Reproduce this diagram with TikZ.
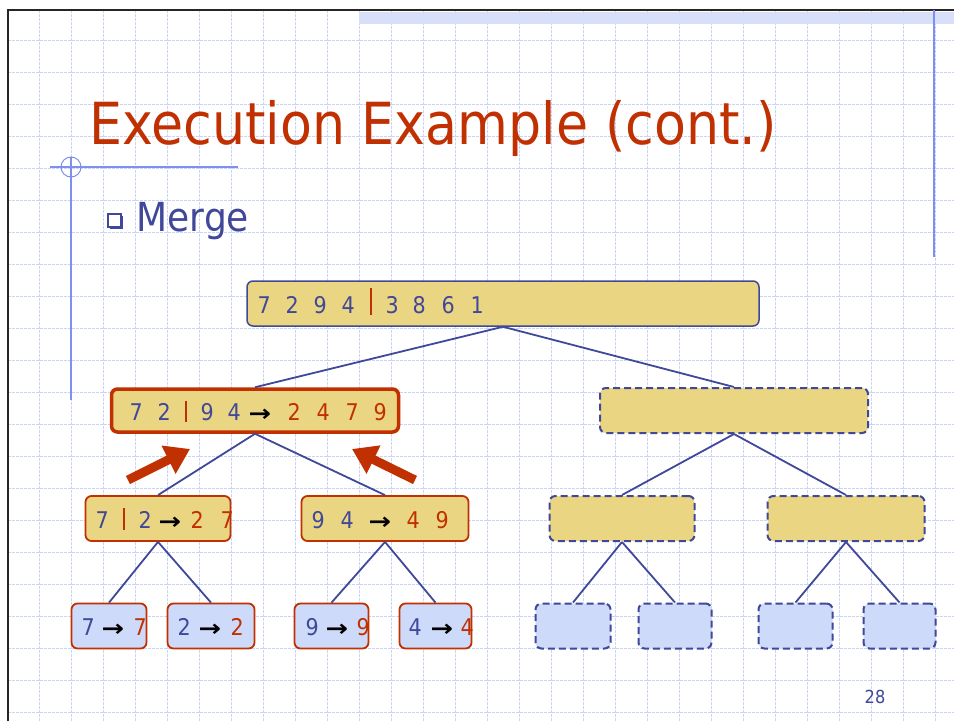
\RequirePackage{fix-cm}
\documentclass[tikz,border=0pt]{standalone}
\usepackage{fontspec}
\setmainfont{DejaVu Sans}[FakeStretch=0.9]
\usetikzlibrary{arrows.meta}

\definecolor{navy}{HTML}{404899}
\definecolor{brick}{HTML}{C03000}
\definecolor{sand}{HTML}{EAD682}
\definecolor{pale}{HTML}{CDDAFA}
\definecolor{gridc}{HTML}{C8D5F8}
\definecolor{deco}{HTML}{7F8FEF}
\definecolor{hatch}{HTML}{D8E0F9}

% one glyph followed by a fixed advance
\newcommand\cell[2]{\makebox[#1pt][l]{#2}}
\newcommand\splitbar[1]{\textcolor{brick}{\rule[-2pt]{2pt}{#1pt}}}
\newcommand\goesto{\textcolor{black}{\raisebox{-1.5pt}{\scalebox{1.3}[1]{\bfseries →}}}}

\begin{document}
\begin{tikzpicture}[x=1pt,y=-1pt,
  digits/.style={anchor=base west,inner sep=0,text=navy,
    font=\fontsize{23}{23}\selectfont},
  conn/.style={draw=navy,line width=1.8},
  ybox/.style={draw=navy,fill=sand,rounded corners=6,line width=1.5,
    minimum height=45,inner sep=0},
  yboxdash/.style={ybox,line width=2,dash pattern=on 7pt off 4pt},
  activebox/.style={ybox,draw=brick,line width=3.5,minimum height=43},
  donebox/.style={ybox,draw=brick,line width=1.8},
  leafbox/.style={donebox,fill=pale},
  leafdash/.style={yboxdash,fill=pale},
  bigarrow/.style={draw=brick,line width=9,
    -{Triangle[length=24pt,width=30pt]}}]

\useasboundingbox (0,0) rectangle (954,721);
\fill[white] (0,0) rectangle (954,721);

% dotted grid of the slide background
\foreach \k in {0,...,28}
  \draw[gridc,line width=1,dash pattern=on 2.5pt off 1.5pt]
    ({39.3+32*\k},10) -- ({39.3+32*\k},721);
\foreach \k in {0,...,21}
  \draw[gridc,line width=1,dash pattern=on 2.5pt off 1.5pt]
    (8,{40.7+32*\k}) -- (954,{40.7+32*\k});

% slide frame and header band
\fill[hatch] (359,11.5) rectangle (954,24);
\draw[black!85,line width=2.2] (8,721) -- (8,10) -- (954,10);

% decorative rules
\draw[deco,line width=2] (934,10) -- (934,257);
\draw[deco,line width=2] (71,157) -- (71,400);
\draw[deco,line width=1.1] (50,167) -- (238,167);
\draw[deco,line width=1] (71,167) circle (10);

% title and bullet
\node[anchor=base west,inner sep=0,text=brick,
  font=\fontsize{58}{58}\selectfont] (title) at (89,144)
  {Execution Example (cont.)};
\draw[navy,line width=1.8] (108,214) rectangle (121,227);
\draw[navy,line width=1.8] (110,228.5) -- (122.5,228.5) -- (122.5,216);
\node[anchor=base west,inner sep=0,text=navy,
  font=\fontsize{40}{40}\selectfont] (merge) at (136.5,231) {Merge};

% merge-sort tree
\node[ybox,minimum width=512] (root) at (503,303.5) {};
\node[activebox,minimum width=287] (a) at (255,410.5) {};
\node[yboxdash,minimum width=268] (b) at (734,410.5) {};
\node[donebox,minimum width=145] (aa) at (158,518.5) {};
\node[donebox,minimum width=167] (ab) at (385,518.5) {};
\node[yboxdash,minimum width=145] (ba) at (622,518.5) {};
\node[yboxdash,minimum width=157] (bb) at (846,518.5) {};
\node[leafbox,minimum width=75] (aaa) at (109,626) {};
\node[leafbox,minimum width=87] (aab) at (211,626) {};
\node[leafbox,minimum width=74] (aba) at (331.5,626) {};
\node[leafbox,minimum width=72] (abb) at (435.5,626) {};
\node[leafdash,minimum width=75] (baa) at (573,626) {};
\node[leafdash,minimum width=73] (bab) at (675,626) {};
\node[leafdash,minimum width=74] (bba) at (795.5,626) {};
\node[leafdash,minimum width=72] (bbb) at (899.5,626) {};

\foreach \p/\c in {root/a,root/b,a/aa,a/ab,b/ba,b/bb,
                   aa/aaa,aa/aab,ab/aba,ab/abb,
                   ba/baa,ba/bab,bb/bba,bb/bbb}
  \draw[conn] (\p.south) -- (\c.north);

% sequence contents
\node[digits] (troot) at (257.5,313)
  {\cell{28}{7}\cell{28}{2}\cell{28}{9}\cell{28}{4}\cell{16}{\splitbar{27}}%
   \cell{27}{3}\cell{29}{8}\cell{29}{6}1};
\node[digits] (ta) at (129.5,420)
  {\cell{28}{7}\cell{27}{2}\cell{16}{\splitbar{21}}\cell{27}{9}\cell{21}{4}%
   \cell{39}{\goesto}\textcolor{brick}{\cell{29}{2}\cell{29}{4}\cell{28}{7}9}};
\node[digits] (taa) at (95.5,528)
  {\cell{27}{7}\cell{16}{\splitbar{22}}\cell{20}{2}\cell{32}{\goesto}%
   \textcolor{brick}{\cell{30}{2}7}};
\node[digits] (tab) at (311.5,528)
  {\cell{29}{9}\cell{28}{4}\cell{38}{\goesto}\textcolor{brick}{\cell{29}{4}9}};
\node[digits] (taaa) at (81.5,635)
  {\cell{20}{7}\cell{32}{\goesto}\textcolor{brick}{7}};
\node[digits] (taab) at (177.5,635)
  {\cell{21}{2}\cell{32}{\goesto}\textcolor{brick}{2}};
\node[digits] (taba) at (305.5,635)
  {\cell{20}{9}\cell{31}{\goesto}\textcolor{brick}{9}};
\node[digits] (tabb) at (408.5,635)
  {\cell{22}{4}\cell{30}{\goesto}\textcolor{brick}{4}};

% merge direction arrows
\coordinate (la0) at (128,480);
\coordinate (la1) at (190,449);
\coordinate (ra0) at (415,480);
\coordinate (ra1) at (352,449);
\draw[bigarrow] (la0) -- (la1);
\draw[bigarrow] (ra0) -- (ra1);

% page number
\node[anchor=base,inner sep=0,text=navy,font=\fontsize{18}{18}\selectfont]
  (page) at (875,703) {28};
\end{tikzpicture}
\end{document}
